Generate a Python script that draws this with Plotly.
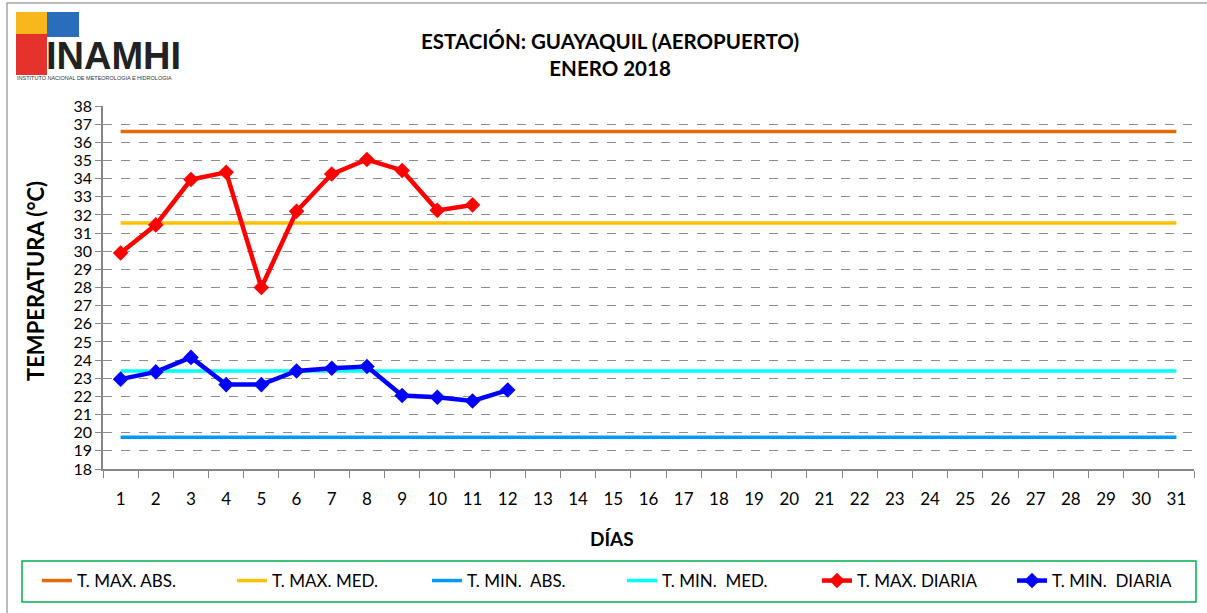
import plotly.graph_objects as go

# datos de la estacion
dias = list(range(1, 32))
t_max_diaria = [29.9, 31.45, 33.95, 34.35, 28.0, 32.2, 34.25, 35.05, 34.45, 32.25, 32.55]
t_min_diaria = [22.95, 23.35, 24.15, 22.65, 22.65, 23.4, 23.55, 23.65, 22.05, 21.95, 21.75, 22.35]
t_max_abs = 36.6
t_max_med = 31.55
t_min_abs = 19.75
t_min_med = 23.4

FUENTE = "Lato"

# conversion de pixeles de la imagen a coordenadas paper
L, R, T, B = 103, 1194, 106, 469
def px(x):
    return (x - L) / (R - L)
def py(y):
    return (B - y) / (B - T)

fig = go.Figure()

# lineas de referencia
referencias = [
    ('T. MAX. ABS.', t_max_abs, '#E36C0A'),
    ('T. MAX. MED.', t_max_med, '#FFC000'),
    ('T. MIN.  ABS.', t_min_abs, '#0099FF'),
    ('T. MIN.  MED.', t_min_med, '#00FFFF'),
]
for nombre, valor, color in referencias:
    fig.add_trace(go.Scatter(
        x=dias, y=[valor] * len(dias), name=nombre, mode='lines',
        line=dict(color=color, width=3.5), hoverinfo='skip'
    ))

fig.add_trace(go.Scatter(
    x=dias[:len(t_max_diaria)], y=t_max_diaria, name='T. MAX. DIARIA',
    mode='lines+markers', line=dict(color='#FF0000', width=4.5),
    marker=dict(symbol='diamond', size=12, color='#FF0000')
))
fig.add_trace(go.Scatter(
    x=dias[:len(t_min_diaria)], y=t_min_diaria, name='T. MIN.  DIARIA',
    mode='lines+markers', line=dict(color='#0000FF', width=4.5),
    marker=dict(symbol='diamond', size=12, color='#0000FF')
))

# logo INAMHI (aproximado con formas)
logo = [
    (16, 12, 47, 34, '#F7B71D'),
    (47, 12, 79, 37, '#2A6EBB'),
    (16, 34, 47, 75, '#E5322D'),
]
formas = []
for x0, y0, x1, y1, c in logo:
    formas.append(dict(type='rect', xref='paper', yref='paper',
                       x0=px(x0), x1=px(x1), y0=py(y0), y1=py(y1),
                       fillcolor=c, line=dict(width=0), layer='below'))
# marco exterior y cuadro de leyenda
formas.append(dict(type='rect', xref='paper', yref='paper',
                   x0=px(7), x1=px(1212), y0=py(620), y1=py(3),
                   line=dict(color='#A6A6A6', width=1.5), fillcolor='rgba(0,0,0,0)'))
formas.append(dict(type='rect', xref='paper', yref='paper',
                   x0=px(22), x1=px(1196), y0=py(602), y1=py(561),
                   line=dict(color='#00B050', width=1.5), fillcolor='white', layer='below'))

fig.update_layout(
    width=1207, height=613,
    margin=dict(l=L, r=1207 - R, t=T, b=613 - B),
    plot_bgcolor='white', paper_bgcolor='white',
    font=dict(family=FUENTE, color='black', size=17),
    shapes=formas,
    showlegend=True,
    legend=dict(orientation='h', x=px(38), xanchor='left',
                y=py(581), yanchor='middle',
                entrywidth=150, entrywidthmode='pixels',
                font=dict(family=FUENTE, size=17), bgcolor='rgba(0,0,0,0)',
                itemclick=False, tracegroupgap=0),
    xaxis=dict(
        type='category', range=[-0.5, 30.5], automargin=False,
        tickmode='array', tickvals=dias, ticktext=[str(d) for d in dias],
        tickson='boundaries', ticks='outside', ticklen=7, tickcolor='#868686',
        showline=True, linecolor='#868686', linewidth=1.5, showgrid=False,
        ticklabelstandoff=14, tickfont=dict(size=17),
    ),
    yaxis=dict(
        range=[18, 38], tickmode='linear', tick0=18, dtick=1, automargin=False,
        ticks='outside', ticklen=6, tickcolor='#868686',
        showline=True, linecolor='#868686', linewidth=1.5,
        showgrid=True, gridcolor='#8C8C8C', griddash='dash', gridwidth=1,
        zeroline=False, tickfont=dict(size=16),
    ),
    annotations=[
        dict(text='<b>ESTACIÓN: GUAYAQUIL (AEROPUERTO)</b><br><b>ENERO 2018</b>',
             xref='paper', yref='paper', x=px(610), y=py(54),
             xanchor='center', yanchor='middle', showarrow=False,
             font=dict(size=20.5), align='center'),
        dict(text='<b>TEMPERATURA (°C)</b>', xref='paper', yref='paper',
             x=px(35), y=py(281), textangle=-90, xanchor='center', yanchor='middle',
             showarrow=False, font=dict(size=22)),
        dict(text='<b>DÍAS</b>', xref='paper', yref='paper',
             x=px(612), y=py(538), xanchor='center', yanchor='middle',
             showarrow=False, font=dict(size=19)),
        dict(text='<b>INAMHI</b>', xref='paper', yref='paper',
             x=px(44), y=py(56), xanchor='left', yanchor='middle',
             showarrow=False, font=dict(family='Liberation Sans', size=38, color='#222222')),
        dict(text='INSTITUTO NACIONAL DE METEOROLOGIA E HIDROLOGIA', xref='paper', yref='paper',
             x=px(15), y=py(78), xanchor='left', yanchor='middle',
             showarrow=False, font=dict(family='Liberation Sans', size=5.5, color='#333333')),
    ],
)

# quitar el margen del body para que la figura quede en (0, 0)
fig.write_html("out.html", config={'displayModeBar': False},
               post_script="document.body.style.margin='0';")
